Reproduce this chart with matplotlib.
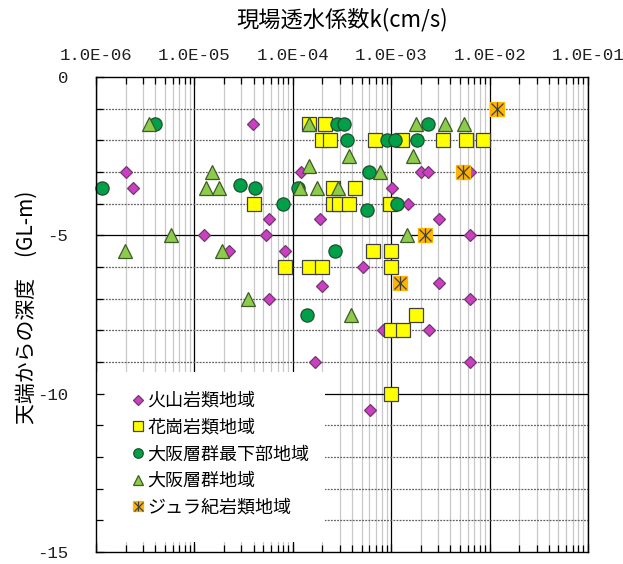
import matplotlib
matplotlib.use('Agg')
import matplotlib.pyplot as plt
from matplotlib.ticker import LogLocator, MultipleLocator, FuncFormatter, NullFormatter
from matplotlib.legend_handler import HandlerTuple
from matplotlib.patches import Rectangle

plt.rcParams['font.family'] = ['Noto Sans CJK JP', 'DejaVu Sans']
plt.rcParams['axes.unicode_minus'] = False

# 火山岩類地域
volcanic_k = [3.9e-5, 2.0e-6, 2.4e-6, 1.25e-5, 2.25e-5, 5.3e-5, 5.7e-5, 5.7e-5, 8.3e-5,
              1.2e-4, 1.9e-4, 2.0e-4, 1.7e-4, 5.2e-4, 6.1e-4, 1.02e-3, 1.48e-3, 2.0e-3,
              2.37e-3, 6.3e-3, 3.06e-3, 6.3e-3, 3.06e-3, 6.3e-3, 2.4e-3, 8.3e-4, 6.3e-3]
volcanic_depth = [-1.5, -3, -3.5, -5, -5.5, -5, -4.5, -7, -5.5,
                  -3, -4.5, -6.6, -9, -6, -10.5, -3.5, -4, -3,
                  -3, -3, -4.5, -5, -6.5, -7, -8, -8, -9]

# 花崗岩類地域
granite_k = [1.46e-4, 2.1e-4, 2.0e-4, 2.4e-4, 6.8e-4, 1.29e-3, 3.36e-3, 5.75e-3, 8.6e-3,
             2.56e-4, 4.3e-4, 2.56e-4, 2.95e-4, 3.7e-4, 9.7e-4, 4.0e-5, 6.5e-4, 1.0e-3,
             8.3e-5, 1.46e-4, 2.0e-4, 1.0e-3, 1.8e-3, 1.0e-3, 1.32e-3, 1.0e-3]
granite_depth = [-1.5, -1.5, -2, -2, -2, -2, -2, -2, -2,
                 -3.5, -3.5, -4, -4, -4, -4, -4, -5.5, -5.5,
                 -6, -6, -6, -6, -7.5, -8, -8, -10]

# 大阪層群最下部地域
osaka_low_k = [4.0e-6, 1.15e-6, 2.9e-5, 4.1e-5, 1.13e-4, 7.9e-5, 2.8e-4, 3.3e-4, 3.56e-4,
               5.9e-4, 5.7e-4, 1.15e-3, 9.06e-4, 1.09e-3, 1.83e-3, 2.37e-3, 2.7e-4, 1.4e-4]
osaka_low_depth = [-1.5, -3.5, -3.4, -3.5, -3.5, -4, -1.5, -1.5, -2,
                   -3, -4.2, -4, -2, -2, -2, -1.5, -5.5, -7.5]

# 大阪層群地域
osaka_k = [3.46e-6, 1.5e-5, 1.31e-5, 1.78e-5, 5.8e-6, 1.97e-6, 1.9e-5, 1.46e-4, 3.7e-4,
           1.46e-4, 1.18e-4, 1.76e-4, 2.88e-4, 7.7e-4, 1.79e-3, 1.67e-3, 1.45e-3, 3.52e-3,
           5.5e-3, 3.5e-5, 3.9e-4]
osaka_depth = [-1.5, -3, -3.5, -3.5, -5, -5.5, -5.5, -1.5, -2.5,
               -2.8, -3.5, -3.5, -3.5, -3, -1.5, -2.5, -5, -1.5,
               -1.5, -7, -7.5]

# ジュラ紀岩類地域
jura_k = [1.2e-2, 5.4e-3, 2.2e-3, 1.23e-3]
jura_depth = [-1, -3, -5, -6.5]

fig = plt.figure(figsize=(6.23, 5.64), dpi=100)
ax = fig.add_axes([96/623, 12/564, 492/623, 475/564])
ax.set_xscale('log')
ax.set_xlim(1e-6, 1e-1)
ax.set_ylim(-15, 0)

# grid lines drawn by hand so the legend box can hide them but not the ticks
for d in range(-6, -1 + 1):
    for m in range(2, 10):
        ax.axvline(m * 10.0**d, color='#c8c8c8', lw=0.9, zorder=0.3)
    ax.axvline(10.0**d, color='black', lw=0.9, zorder=0.4)
for yv in range(-14, 0):
    if yv % 5 == 0:
        ax.axhline(yv, color='black', lw=0.9, zorder=0.4)
    else:
        ax.axhline(yv, color='#606060', lw=0.9, ls=(0, (1.5, 1)), zorder=0.4)

ax.add_patch(Rectangle((0.002, 0.021), 0.463, 0.358, transform=ax.transAxes,
                       facecolor='white', edgecolor='none', zorder=1))

common = dict(linestyle='none', clip_on=False, markeredgewidth=0.9)
h1, = ax.plot(volcanic_k, volcanic_depth, marker='D', ms=6.5, color='#CC3EC2',
              markeredgecolor='#6e3a6c', zorder=3, **common)
h2, = ax.plot(granite_k, granite_depth, marker='s', ms=9.5, color='#FFFF00',
              markeredgecolor='#404040', zorder=4, **common)
h3, = ax.plot(osaka_low_k, osaka_low_depth, marker='o', ms=9.5, color='#00A04A',
              markeredgecolor='#1f4f2a', zorder=5, **common)
h4, = ax.plot(osaka_k, osaka_depth, marker='^', ms=10, color='#8CCB4C',
              markeredgecolor='#3f5a25', zorder=6, **common)
h5a, = ax.plot(jura_k, jura_depth, marker='s', ms=10.5, color='#FFB400',
               markeredgecolor='#FFB400', zorder=7, **common)
h5b, = ax.plot(jura_k, jura_depth, marker='x', ms=9, color='#404040', zorder=8, **common)
h5c, = ax.plot(jura_k, jura_depth, marker='|', ms=10.5, color='#404040', zorder=8, **common)

labels = ['火山岩類地域', '花崗岩類地域', '大阪層群最下部地域', '大阪層群地域', 'ジュラ紀岩類地域']
leg = ax.legend([h1, h2, h3, h4, (h5a, h5b, h5c)], labels,
                handler_map={tuple: HandlerTuple(ndivide=1)},
                loc='upper left', bbox_to_anchor=(0.073, 0.337), borderaxespad=0,
                borderpad=0, frameon=False, fontsize=13, markerscale=0.72,
                handlelength=0.7, handletextpad=0.15, labelspacing=0.48)
leg.set_zorder(9)

# ticks
ax.xaxis.set_major_locator(LogLocator(base=10, numticks=10))
ax.xaxis.set_minor_locator(LogLocator(base=10, subs=range(2, 10), numticks=100))
ax.xaxis.set_minor_formatter(NullFormatter())
ax.xaxis.set_major_formatter(FuncFormatter(lambda v, p: '%.1E' % v))
ax.yaxis.set_major_locator(MultipleLocator(5))
ax.yaxis.set_minor_locator(MultipleLocator(1))
ax.yaxis.set_major_formatter(FuncFormatter(lambda v, p: '%d' % round(v)))

ax.tick_params(which='both', direction='in', top=True, bottom=True, left=True, right=False,
               labeltop=True, labelbottom=False, color='black', zorder=10)
ax.tick_params(which='major', length=6, width=0.9)
ax.tick_params(which='minor', length=5, width=0.9)
ax.tick_params(axis='x', pad=10, labelsize=12.5)
ax.tick_params(axis='y', pad=20, labelsize=12.5)
for lab in ax.get_xticklabels() + ax.get_yticklabels():
    lab.set_family('Liberation Mono')
    lab.set_color('#202020')

for sp in ax.spines.values():
    sp.set_color('black')
    sp.set_linewidth(1.0)
    sp.set_zorder(10)

fig.text(342/623, 1 - 20/564, '現場透水係数k(cm/s)', ha='center', va='center', fontsize=16)
fig.text(27/623, 1 - 307/564, '天端からの深度　(GL-m)', ha='center', va='center',
         rotation=90, fontsize=15)

fig.savefig('out.png', dpi=100)
